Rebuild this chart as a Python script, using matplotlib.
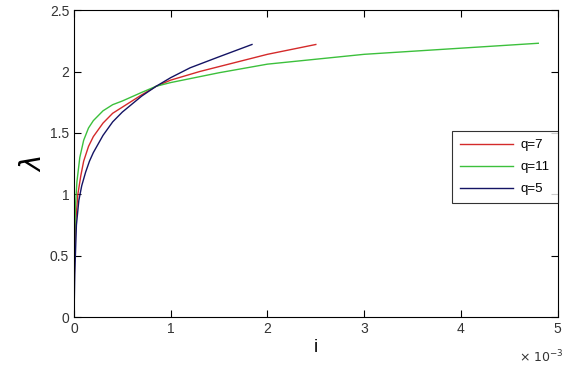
import numpy as np
import matplotlib
matplotlib.use('Agg')
import matplotlib.pyplot as plt
from matplotlib.ticker import FuncFormatter

# values, i in units of 1e-3
i_q7 = np.array([0, 0.005, 0.02, 0.04, 0.07, 0.1, 0.15, 0.2, 0.3, 0.4, 0.5, 0.7, 0.85, 1.0,
                 1.3, 1.6, 2.0, 2.5]) * 1e-3
lam_q7 = np.array([0, 0.45, 0.8, 1.0, 1.15, 1.27, 1.39, 1.47, 1.58, 1.66, 1.71, 1.81, 1.88, 1.93,
                   2.0, 2.06, 2.14, 2.22])

i_q11 = np.array([0, 0.003, 0.015, 0.03, 0.06, 0.1, 0.15, 0.2, 0.3, 0.4, 0.5, 0.7, 0.85, 1.0,
                  1.5, 2.0, 3.0, 4.0, 4.8]) * 1e-3
lam_q11 = np.array([0, 0.5, 0.9, 1.1, 1.3, 1.44, 1.54, 1.6, 1.68, 1.73, 1.76, 1.83, 1.88, 1.91,
                    1.99, 2.06, 2.14, 2.19, 2.23])

i_q5 = np.array([0, 0.008, 0.025, 0.05, 0.08, 0.12, 0.16, 0.2, 0.3, 0.4, 0.5, 0.7, 0.85, 1.0,
                 1.2, 1.5, 1.84]) * 1e-3
lam_q5 = np.array([0, 0.35, 0.75, 0.95, 1.07, 1.18, 1.27, 1.34, 1.48, 1.59, 1.67, 1.8, 1.88, 1.95,
                   2.03, 2.12, 2.22])

labels = ['q=7', 'q=11', 'q=5']

plt.rcParams['font.family'] = ['Liberation Sans', 'DejaVu Sans']

fig = plt.figure(figsize=(5.67, 3.74), dpi=100)
ax = fig.add_axes([0.1305, 0.152, 0.853, 0.821])

ax.plot(i_q7, lam_q7, color='#d42a2a', lw=1.0, label=labels[0])
ax.plot(i_q11, lam_q11, color='#3cc03c', lw=1.0, label=labels[1])
ax.plot(i_q5, lam_q5, color='#141464', lw=1.0, label=labels[2])

ax.set_xlim(0, 5e-3)
ax.set_ylim(0, 2.5)
ax.set_xticks(np.arange(0, 6) * 1e-3)
ax.set_yticks([0, 0.5, 1, 1.5, 2, 2.5])
ax.xaxis.set_major_formatter(FuncFormatter(lambda v, p: '%g' % round(v * 1e3, 3)))
ax.yaxis.set_major_formatter(FuncFormatter(lambda v, p: '%g' % v))
ax.tick_params(direction='in', top=True, right=True, length=5, labelsize=10,
               labelcolor='#333333')

ax.set_xlabel('i', fontsize=13, labelpad=2)
ax.set_ylabel(r'$\lambda$', fontsize=20, labelpad=2)

leg = ax.legend(loc='upper right', bbox_to_anchor=(1.0, 0.606), borderaxespad=0,
                fancybox=False, edgecolor='black', fontsize=9.5, handlelength=4.0,
                borderpad=0.6, labelspacing=0.75, handletextpad=0.6)
leg.get_frame().set_linewidth(0.8)

fig.text(0.915, 0.03, r'$\times\ 10^{-3}$', fontsize=9, color='#333333')

fig.savefig('out.png', dpi=100)
